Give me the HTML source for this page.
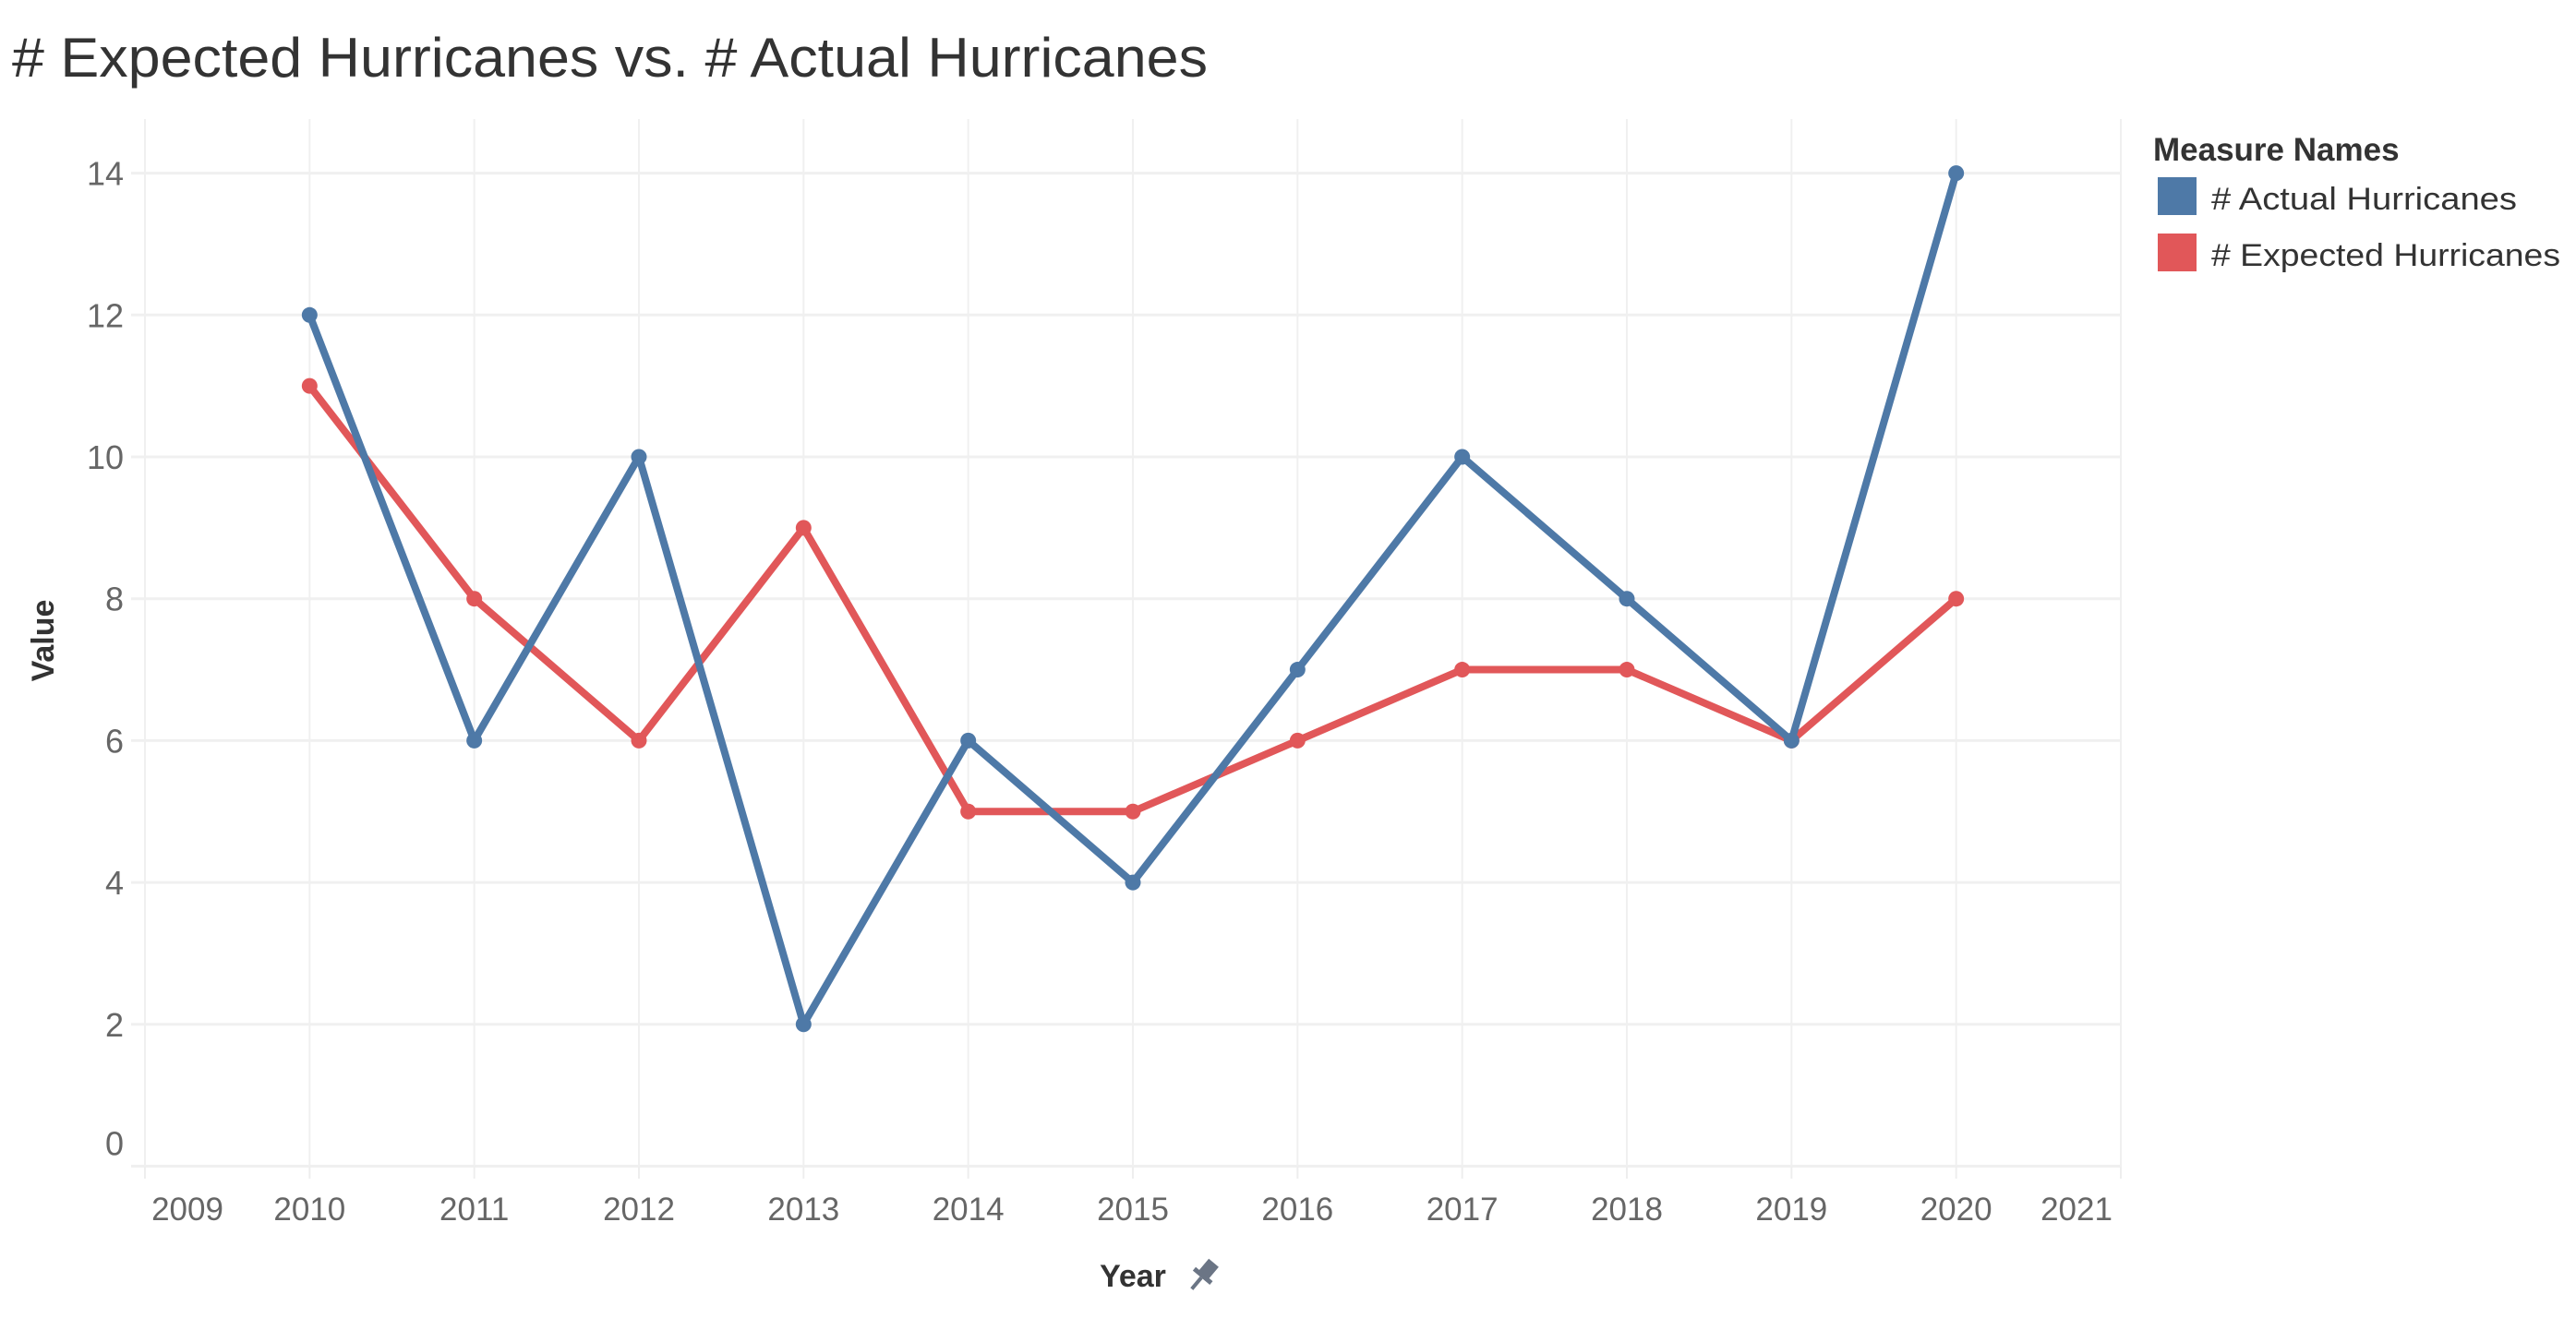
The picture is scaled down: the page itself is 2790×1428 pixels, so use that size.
<!DOCTYPE html>
<html><head><meta charset="utf-8"><style>
html,body{margin:0;padding:0;background:#fff;}
svg{display:block;font-family:"Liberation Sans",sans-serif;}
</style></head><body>
<svg id="chart" width="2790" height="1428" viewBox="0 0 2790 1428">
<text x="13" y="83" font-size="60" fill="#333" textLength="1295" lengthAdjust="spacingAndGlyphs"># Expected Hurricanes vs. # Actual Hurricanes</text>
<g id="grid"></g>
<g id="yaxis"></g>
<g id="xaxis"></g>
<g id="series"></g>
<text transform="translate(58,694) rotate(-90)" text-anchor="middle" font-size="34" font-weight="bold" fill="#333">Value</text>
<text x="1227" y="1394" text-anchor="middle" font-size="34" font-weight="bold" fill="#333">Year</text>
<g transform="translate(1303,1382) rotate(40)" fill="#6b7585">
<rect x="-7" y="-18" width="14" height="20"/><rect x="-12" y="-2" width="24" height="5"/><rect x="-2" y="3" width="4" height="16"/>
</g>
<g>
<text x="2332" y="174" font-size="35" font-weight="bold" fill="#333">Measure Names</text>
<g>
<rect x="2337" y="192" width="42" height="41" fill="#4e79a7"/>
<text x="2395" y="227" font-size="34" fill="#333" textLength="331" lengthAdjust="spacingAndGlyphs"># Actual Hurricanes</text></g>
<g>
<rect x="2337" y="253" width="42" height="41" fill="#e15759"/>
<text x="2395" y="288" font-size="34" fill="#333" textLength="378" lengthAdjust="spacingAndGlyphs"># Expected Hurricanes</text></g>
</g>
</svg>
<script>
const years = [2010,2011,2012,2013,2014,2015,2016,2017,2018,2019,2020];
const actual = [12,6,10,2,6,4,7,10,8,6,14];
const expected = [11,8,6,9,5,5,6,7,7,6,8];
const yTicks = [0,2,4,6,8,10,12,14];
const xTicks = [2009,2010,2011,2012,2013,2014,2015,2016,2017,2018,2019,2020,2021];

const NS='http://www.w3.org/2000/svg';
const x0=157,x1=2297,y0=1263.5,yTop=129;
const xMin=2009,xMax=2021,vMin=0,vMax=14;
const yScaleTop=187.6;
function X(v){return x0+(v-xMin)*(x1-x0)/(xMax-xMin);}
function Y(v){return y0-(v-vMin)*(y0-yScaleTop)/(vMax-vMin);}
function mk(tag,attrs,parent){const e=document.createElementNS(NS,tag);for(const k in attrs)e.setAttribute(k,attrs[k]);parent.appendChild(e);return e;}
const grid=document.getElementById('grid'),ya=document.getElementById('yaxis'),xa=document.getElementById('xaxis'),ser=document.getElementById('series');

xTicks.forEach(t=>{
  const l=mk('line',{x1:X(t),x2:X(t),y1:yTop,y2:y0,stroke:'#f0f0f0','stroke-width':2},grid);
  
  
  const tk=mk('line',{x1:X(t),x2:X(t),y1:y0,y2:1277,stroke:'#eee','stroke-width':2},xa);
  
  
  let lx=X(t);
  if(t===xMin) lx+=46;
  if(t===xMax) lx-=48;
  const tx=mk('text',{x:lx,y:1322,'text-anchor':'middle','font-size':35,fill:'#666'},xa);
  tx.textContent=t;
  
  
});
yTicks.forEach(t=>{
  const l=mk('line',{x1:142,x2:x1,y1:Y(t),y2:Y(t),stroke:'#f0f0f0','stroke-width':3},grid);
  
  
  const tx=mk('text',{x:134,y:Y(t)+13-(t===0?25:0),'text-anchor':'end','font-size':36,fill:'#666'},ya);
  tx.textContent=t;
  
  
});
function drawSeries(vals,color,name){
  const pts=vals.map((v,i)=>X(years[i])+','+Y(v)).join(' ');
  const pl=mk('polyline',{points:pts,fill:'none',stroke:color,'stroke-width':8,'stroke-linejoin':'round'},ser);
  
  
  vals.forEach((v,i)=>{
    const c=mk('circle',{cx:X(years[i]),cy:Y(v),r:8.5,fill:color},ser);
    
    
  });
}
drawSeries(expected,'#e15759','expected');
drawSeries(actual,'#4e79a7','actual');
</script>
</body></html>
